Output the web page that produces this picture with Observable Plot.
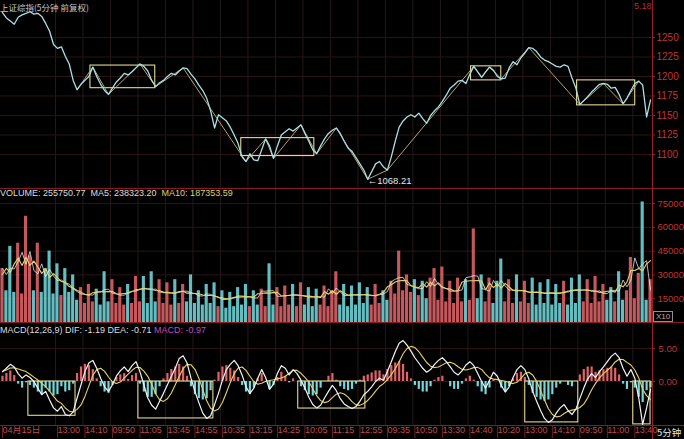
<!DOCTYPE html>
<html><head><meta charset="utf-8">
<script src="https://cdn.jsdelivr.net/npm/d3@7"></script>
<script src="https://cdn.jsdelivr.net/npm/@observablehq/plot@0.6"></script>
<style>
html,body{margin:0;padding:0;background:#000;}
#wrap{position:relative;width:684px;height:439px;overflow:hidden;background:#000;font-family:"Liberation Sans",Arial,"Noto Sans CJK SC",sans-serif;}
#wrap svg{position:absolute;left:0;}
.abs{position:absolute;white-space:nowrap;font-size:9px;line-height:10px;}
.hl{position:absolute;left:0;width:684px;height:1px;background:#861c1c;}
</style></head><body><div id="wrap"></div>
<script>
// ---- data (one value per two 5-minute bars) ----
const price = [
1282,1275,1271,1267,1276,1279,1281,1283,1280,1281,
1277,1268,1258,1241,1236,1238,1226,1216,1195,1183,
1190,1195,1200,1212,1200,1190,1182,1177,1185,1193,
1198,1204,1202,1206,1211,1216,1213,1207,1195,1187,
1192,1195,1200,1204,1202,1207,1211,1210,1203,1197,
1189,1182,1172,1156,1134,1151,1147,1143,1135,1125,
1114,1097,1091,1101,1093,1092,1106,1120,1111,1095,
1111,1125,1129,1133,1130,1134,1138,1127,1117,1106,
1101,1111,1120,1127,1131,1134,1127,1117,1108,1104,
1096,1088,1080,1068.21,1078,1088,1091,1084,1080,1097,
1117,1135,1143,1148,1151,1148,1153,1146,1140,1150,
1156,1161,1168,1176,1185,1189,1194,1195,1191,1203,
1213,1206,1199,1206,1212,1208,1200,1197,1198,1211,
1219,1215,1224,1230,1237,1236,1232,1225,1221,1219,
1216,1213,1212,1215,1213,1198,1185,1164,1169,1174,
1180,1185,1190,1191,1190,1185,1186,1177,1165,1172,
1182,1191,1194,1189,1148,1170];

const volumeK = [
34,20,48,19,50,18,67,42,20,50,19,34,45,18,37,17,34,19,
30,14,22,12,24,13,21,11,32,13,27,12,22,11,24,12,29,13,29,12,32,13,27,12,25,11,27,12,24,13,30,12,20,11,24,12,25,
10,20,9,19,10,22,11,24,10,20,11,21,10,37,11,22,10,23,11,24,10,25,11,22,10,21,11,23,10,20,32,11,24,10,23,11,25,12,22,11,24,12,
20,14,26,18,45,20,30,19,27,17,26,15,28,34,
14,35,13,26,12,28,13,27,14,59,15,30,13,28,12,26,40,13,27,12,30,13,26,12,28,11,25,12,27,11,24,12,26,11,28,12,30,13,27,12,29,13,24,14,22,13,32,14,20,41,15,31,76,14,27];

const dif = [
1.5,2.0,2.6,2.2,1.2,0.5,1.0,0.6,
0.0,-1.0,-2.0,-1.5,-2.8,-4.0,-4.5,-3.8,-5.0,-5.2,-4.6,-2.5,
-0.5,1.5,2.8,3.2,2.0,0.5,-0.8,-1.5,-0.5,0.8,1.6,2.2,1.5,2.4,3.0,
1.5,-0.5,-2.5,-3.6,-4.2,-3.0,-1.8,-0.5,0.8,2.0,3.5,3.9,2.8,0.5,-1.5,-3.2,-4.8,-5.6,-5.2,-3.5,
-1.8,0.2,1.8,2.6,3.2,2.4,1.0,-0.8,-1.8,-1.0,0.5,1.8,0.6,-1.2,-0.4,1.2,2.4,2.0,1.0,1.8,1.2,
0.2,-1.0,-2.4,-3.5,-4.0,-3.6,-2.5,-1.5,-0.6,-1.4,-2.6,-3.4,-3.8,-4.1,-3.8,-3.0,-2.0,
-1.5,-0.8,0.0,0.5,0.2,1.5,3.0,4.5,5.8,6.2,5.5,4.6,3.6,
2.8,2.0,1.4,1.8,2.6,3.2,3.6,3.0,2.2,1.4,1.0,1.6,2.5,3.0,2.4,1.2,0.0,-1.0,0.2,1.4,0.8,-0.6,-1.6,-0.8,0.6,1.8,2.4,
1.8,0.4,-1.5,-3.0,-4.4,-5.6,-6.2,-5.8,-4.8,-4.0,-3.5,-4.4,-5.0,-4.2,-2.6,
-1.0,0.4,1.2,0.6,1.5,2.2,3.0,3.8,4.3,3.6,2.0,0.8,1.8,
0.5,-2.5,-6.5,-4.0,-1.19];

const macdHist = [
0.8,1.2,1.6,0.9,-0.4,-1.0,-0.2,-0.6,
-1.0,-1.6,-2.0,-1.0,-1.6,-2.2,-2.0,-0.8,-1.6,-1.4,-0.4,1.2,
2.2,2.6,2.4,1.8,0.4,-0.8,-1.6,-1.8,-0.6,0.6,1.0,1.2,0.3,0.9,1.2,
-0.4,-1.6,-2.4,-2.4,-2.0,-0.8,0.4,1.2,1.8,2.2,2.6,2.2,0.8,-0.8,-2.0,-2.6,-2.8,-2.6,-1.4,0.2,
1.4,2.2,2.4,2.0,1.6,0.6,-0.6,-1.6,-2.0,-1.0,0.4,1.2,0.0,-1.2,-0.6,0.6,1.4,0.8,-0.2,0.4,0.0,
-0.8,-1.4,-2.0,-2.2,-2.0,-1.0,0.0,0.8,1.2,0.2,-0.8,-1.2,-1.4,-1.2,-0.4,0.2,0.8,
1.0,1.3,1.6,1.6,1.0,1.8,2.4,2.8,3.0,2.6,1.4,0.4,-0.6,
-1.2,-1.6,-1.6,-0.8,0.2,0.6,0.8,0.0,-0.8,-1.2,-1.2,-0.4,0.4,0.8,0.2,-0.8,-1.6,-2.0,-1.0,0.2,0.0,-1.0,-1.6,-0.8,0.4,1.2,1.4,
0.6,-0.6,-1.8,-2.4,-2.8,-3.0,-2.8,-2.0,-1.0,-0.4,0.0,-0.6,-0.8,0.0,1.0,
1.8,2.2,2.2,1.4,1.6,1.8,2.0,2.2,2.0,1.0,-0.4,-1.2,-0.2,
-1.0,-2.4,-3.2,-1.4,-0.97];

const priceTicks = [1100,1125,1150,1175,1200,1225,1250];
const volumeTicks = [15,30,45,60,75];
const macdTicks = [0,5];
const timeLabels = ["04月15日","13:00","14:10","09:50","11:05","13:45","14:55","10:35","13:15","14:25","10:05","11:15","12:55","09:35","10:50","13:30","14:40","10:20","13:00","14:10","09:50","11:00","13:40"];
const timeIndex = [0,14,21,28,35,42,49,56,63,70,77,84,91,98,105,112,119,126,133,140,147,154,161];

// consolidation boxes on the price panel
const boxStart = [22.9,61.3,119.8,146.8];
const boxEnd   = [39.4,79.9,127.5,161.6];
const boxHigh  = [1214,1121,1213,1195];
const boxLow   = [1185,1098,1195,1163];
// zigzag turning points (bar index)
const zigIndex = [19,23,27,35,39,46,62,67,69,76,80,85,93,98,120,122,124,127,134,147,153,158,162];
// boxes on the MACD panel
const macdBoxStart = [7.1,35.1,75.8,133.6,161.1];
const macdBoxEnd   = [19.1,54.2,92.9,147.1,165.5];
const macdBoxLow   = [-5.2,-5.6,-4.1,-6.2,-6.5];

const volumeText = "VOLUME: 255750.77  MA5: 238323.20  ";
const ma10Text = "MA10: 187353.59";
const macdText = "MACD(12,26,9) DIF: -1.19 DEA: -0.71 ";
const macdValText = "MACD: -0.97";
const lowValue = 1068.21;

// ---- drawing ----
const N = price.length;
const wrap = document.getElementById("wrap");
const font = "Liberation Sans, Arial, Noto Sans CJK SC, sans-serif";
const axisRed = "#c23434";
const gridH = "#2c1414", gridV = "#251818";
const upColor = "#e0646a", downColor = "#72d8dc";
const boxColor = "#e2d894";
const idx = (d, i) => i + 0.5;
const gridIdx = timeIndex.slice(1);

function base(height, marginBottom) {
  return {
    width: 684, height, marginLeft: 0, marginRight: 32, marginTop: 0, marginBottom,
    style: {background: "transparent", fontFamily: font, color: axisRed, overflow: "visible"},
    x: {domain: [0, N], axis: null},
    color: {type: "identity"}
  };
}

// price panel
const p1 = Plot.plot({
  ...base(188, 0),
  y: {domain: [1056.4, 1297.4], axis: null},
  marks: [
    Plot.ruleY(priceTicks, {stroke: gridH}),
    Plot.ruleX(gridIdx, {stroke: gridV}),
    Plot.axisY(priceTicks, {anchor: "right", tickSize: 2, tickPadding: 2, stroke: "#a02020", fill: axisRed, fontSize: 10, tickFormat: d => String(d), label: null}),
    Plot.rect(boxStart, {x1: d => d, x2: (d, i) => boxEnd[i], y1: (d, i) => boxLow[i], y2: (d, i) => boxHigh[i], fill: "none", stroke: boxColor, strokeWidth: 1.1}),
    Plot.line(zigIndex, {x: d => d + 0.5, y: d => price[d], stroke: "#c8b47a", strokeWidth: 0.9}),
    Plot.line(price, {x: idx, y: d => d, stroke: "#a9dfe6", strokeWidth: 1.3}),
    Plot.text([lowValue], {x: price.indexOf(lowValue) + 0.5, y: d => d, text: d => "←" + d.toFixed(2), textAnchor: "start", dy: 2, fill: "#e6e6e6", fontSize: 9.5})
  ]
});
p1.style.top = "0px";
wrap.appendChild(p1);

// volume panel
const volColor = (d, i) => (i === 0 || price[i] >= price[i - 1]) ? upColor : downColor;
const p2 = Plot.plot({
  ...base(134, 0),
  y: {domain: [0, 84.5], axis: null},
  marks: [
    Plot.ruleY(volumeTicks, {stroke: gridH}),
    Plot.ruleX(gridIdx, {stroke: gridV}),
    Plot.axisY(volumeTicks, {anchor: "right", tickSize: 2, tickPadding: 3, stroke: "#a02020", fill: axisRed, fontSize: 9.5, tickFormat: d => String(d * 1000), label: null}),
    Plot.rectY(volumeK, {x1: (d, i) => i, x2: (d, i) => i + 1, y: d => d, fill: volColor, insetLeft: 0.4, insetRight: 0.4, fillOpacity: 0.88}),
    Plot.lineY(volumeK, Plot.windowY({k: 4}, {x: idx, y: d => d, stroke: "#f2f2f2", strokeWidth: 1, strokeOpacity: 0.75})),
    Plot.lineY(volumeK, Plot.windowY({k: 6}, {x: idx, y: d => d, stroke: "#e6d468", strokeWidth: 1.1}))
  ]
});
p2.style.top = "188px";
wrap.appendChild(p2);

// MACD panel + time axis
const p3 = Plot.plot({
  ...base(117, 14),
  y: {domain: [-6.67, 8.94], axis: null},
  marks: [
    Plot.ruleY(macdTicks, {stroke: gridH}),
    Plot.ruleX(gridIdx, {stroke: gridV}),
    Plot.axisY(macdTicks, {anchor: "right", tickSize: 2, tickPadding: 4, stroke: "#a02020", fill: axisRed, fontSize: 9.5, tickFormat: d => d.toFixed(2), label: null}),
    Plot.ruleX(macdHist, {x: idx, y1: 0, y2: d => d, stroke: d => d >= 0 ? upColor : downColor, strokeWidth: 2.2}),
    Plot.rect(macdBoxStart, {x1: d => d, x2: (d, i) => macdBoxEnd[i], y1: (d, i) => macdBoxLow[i], y2: 0, fill: "none", stroke: boxColor, strokeWidth: 1.1}),
    Plot.lineY(dif, Plot.windowY({k: 5, anchor: "end"}, {x: idx, y: d => d, stroke: "#e6d468", strokeWidth: 1.1})),
    Plot.line(dif, {x: idx, y: d => d, stroke: "#f4f4f4", strokeWidth: 1.2}),
    Plot.axisX(timeIndex, {anchor: "bottom", tickSize: 13, tickPadding: -12, lineAnchor: "top", textAnchor: "start", dx: 2, stroke: "#6e2020", fill: "#c44a4a", fontSize: 9, tickFormat: d => timeLabels[timeIndex.indexOf(d)], label: null})
  ]
});
p3.style.top = "322px";
wrap.appendChild(p3);

// separators and frame lines
for (const t of [188, 322, 425]) {
  const l = document.createElement("div"); l.className = "hl"; l.style.top = t + "px"; wrap.appendChild(l);
}
const v = document.createElement("div");
v.style.cssText = "position:absolute;left:652px;top:0;width:1px;height:439px;background:#9a2020;";
wrap.appendChild(v);

// texts
function addText(html, css) {
  const d = document.createElement("div"); d.className = "abs"; d.style.cssText += css; d.innerHTML = html; wrap.appendChild(d);
}
addText("上证综指(5分钟 前复权)", "left:0px;top:1px;color:#c8c8c8;font-family:'Noto Sans CJK SC',sans-serif;font-size:8.5px;line-height:12px;");
addText("5.18", "left:634px;top:1px;color:#b03030;");
addText(`<span style="color:#dcdcdc">${volumeText.replace(/ /g,"&nbsp;")}</span><span style="color:#dccf78">${ma10Text}</span>`, "left:0px;top:188px;");
addText(`<span style="color:#dcdcdc">${macdText.replace(/ /g,"&nbsp;")}</span><span style="color:#c448c4">${macdValText}</span>`, "left:0px;top:325px;");
addText("X10", "left:653px;top:311px;color:#d0a0a0;border:1px solid #909090;padding:0 2px;font-size:8px;line-height:9px;");
addText("5分钟", "left:657px;top:427px;color:#e8e8e8;font-family:'Noto Sans CJK SC',sans-serif;font-size:9.5px;");
</script>
</body></html>
